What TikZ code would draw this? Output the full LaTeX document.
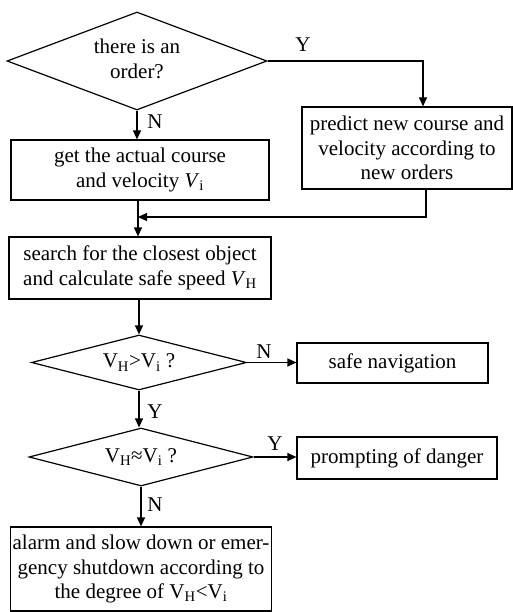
\documentclass[tikz,border=0pt]{standalone}
\usepackage{fontspec}
\setmainfont{Liberation Serif}
\usetikzlibrary{shapes.geometric,arrows.meta,calc}
\begin{document}
\begin{tikzpicture}[x=1pt,y=-1pt,
  every node/.style={font=\fontsize{21}{24.5}\selectfont},
  box/.style={draw,line width=1.2pt,inner sep=0pt,align=center},
  dia/.style={draw,diamond,line width=1.2pt,inner sep=0pt,align=center},
  lab/.style={inner sep=0pt},
  arr/.style={line width=1.2pt,-{Triangle[length=9pt,width=8pt]}},
  ln/.style={line width=1.2pt}]
\useasboundingbox (0,0) rectangle (513,612);
% nodes
\node[dia,aspect=2.65,minimum width=260pt,minimum height=98pt] (d1) at (137,61) {\raisebox{-5pt}{\begin{tabular}{@{}c@{}}there is an\\order?\end{tabular}}};
\node[box,minimum width=258pt,minimum height=60pt] (b1) at (140,170) {get the actual course\\and velocity \textit{V}\textsubscript{i}};
\node[box,minimum width=210pt,minimum height=82pt] (b2) at (407,148) {predict new course and\\velocity according to\\new orders};
\node[box,minimum width=262pt,minimum height=62pt] (b3) at (140,268) {search for the closest object\\and calculate safe speed \textit{V}\textsubscript{H}};
\node[dia,aspect=3.9,minimum width=215pt,minimum height=55pt] (d2) at (139,362.5) {V\textsubscript{H}>V\textsubscript{i} ?};
\node[box,minimum width=191pt,minimum height=40pt] (b4) at (392.5,363) {safe navigation};
\node[dia,aspect=3.86,minimum width=224pt,minimum height=58pt] (d3) at (141,457) {V\textsubscript{H}≈V\textsubscript{i} ?};
\node[box,minimum width=200pt,minimum height=42pt] (b5) at (397,458) {prompting of danger};
\node[box,minimum width=261pt,minimum height=84pt] (b6) at (141,569) {alarm and slow down or emer-\\gency shutdown according to\\the degree of V\textsubscript{H}<V\textsubscript{i}};
% labels
\node[lab] (ly1) at (303,45) {Y};
\node[lab] (ln1) at (155,122) {N};
\node[lab] (ln2) at (264,352) {N};
\node[lab] (ly2) at (155,412) {Y};
\node[lab] (ly3) at (275,444) {Y};
\node[lab] (ln3) at (155,505) {N};
% connectors
\draw[arr] (d1.east) -| ([xshift=16pt]b2.north);
\draw[arr] (d1.south) -- (d1.south |- b1.north);
\draw[arr] (b1.south -| 138,0) -- (b3.north -| 138,0);
\coordinate (m1) at (138,217);
\draw[arr] ([xshift=19pt]b2.south) |- (m1);
\draw[arr] (b3.south -| 139,0) -- (d2.north);
\draw[arr] (d2.east) -- (d2.east -| b4.west);
\draw[arr] (d2.south) -- (d2.south |- d3.north);
\draw[arr] (d3.east) -- (d3.east -| b5.west);
\draw[arr] (d3.south) -- (b6.north);
\end{tikzpicture}
\end{document}
